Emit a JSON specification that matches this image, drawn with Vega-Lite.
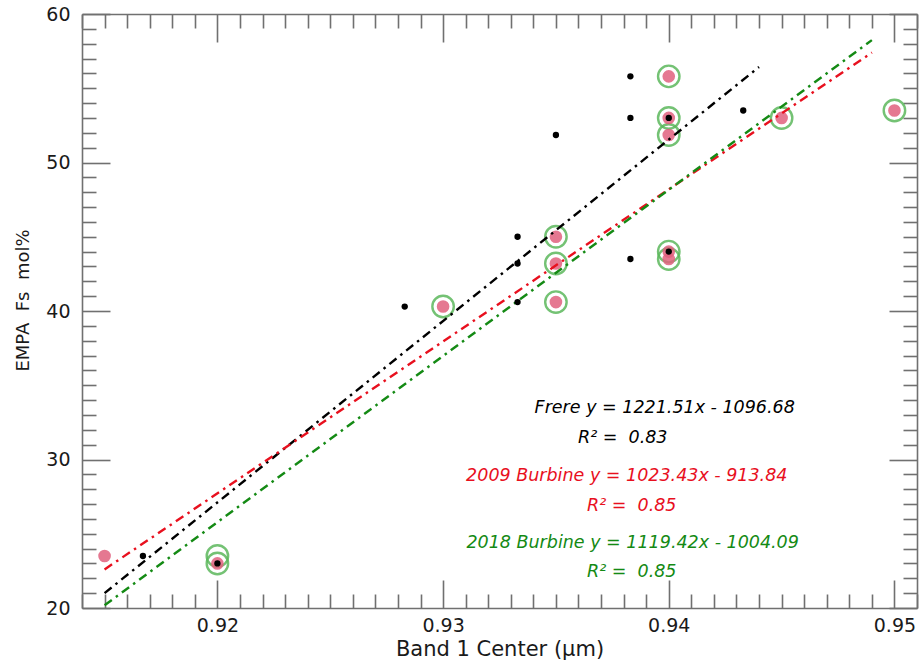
{
  "$schema": "https://vega.github.io/schema/vega-lite/v6.json",
  "width": 835,
  "height": 594,
  "autosize": "none",
  "padding": {"left": 82, "top": 14, "right": 4, "bottom": 55},
  "config": {
    "font": "DejaVu Sans",
    "view": {"stroke": null},
    "axis": {
      "grid": false,
      "domainColor": "#707070",
      "domainWidth": 1.6,
      "tickColor": "#707070",
      "tickWidth": 1.6,
      "labelColor": "#1a1a1a",
      "labelFont": "DejaVu Sans",
      "labelFontSize": 19,
      "titleFont": "DejaVu Sans",
      "titleFontSize": 21,
      "titleFontWeight": "normal",
      "titleColor": "#1a1a1a"
    }
  },
  "datasets": {
    "frere": [
      {"center": 0.9167, "fs": 23.5},
      {"center": 0.92, "fs": 23.0},
      {"center": 0.9283, "fs": 40.3},
      {"center": 0.9333, "fs": 45.0},
      {"center": 0.9333, "fs": 43.2},
      {"center": 0.9333, "fs": 40.6},
      {"center": 0.935, "fs": 51.85},
      {"center": 0.9383, "fs": 55.8},
      {"center": 0.9383, "fs": 53.0},
      {"center": 0.9383, "fs": 43.5},
      {"center": 0.94, "fs": 53.0},
      {"center": 0.94, "fs": 44.0},
      {"center": 0.9433, "fs": 53.5}
    ],
    "burbine2009": [
      {"center": 0.915, "fs": 23.5},
      {"center": 0.92, "fs": 23.0},
      {"center": 0.93, "fs": 40.3},
      {"center": 0.935, "fs": 45.0},
      {"center": 0.935, "fs": 43.2},
      {"center": 0.935, "fs": 40.6},
      {"center": 0.94, "fs": 55.8},
      {"center": 0.94, "fs": 53.0},
      {"center": 0.94, "fs": 51.85},
      {"center": 0.94, "fs": 44.0},
      {"center": 0.94, "fs": 43.5},
      {"center": 0.945, "fs": 53.0},
      {"center": 0.95, "fs": 53.5}
    ],
    "burbine2018": [
      {"center": 0.92, "fs": 23.5},
      {"center": 0.92, "fs": 23.0},
      {"center": 0.93, "fs": 40.3},
      {"center": 0.935, "fs": 45.0},
      {"center": 0.935, "fs": 43.2},
      {"center": 0.935, "fs": 40.6},
      {"center": 0.94, "fs": 55.8},
      {"center": 0.94, "fs": 53.0},
      {"center": 0.94, "fs": 51.85},
      {"center": 0.94, "fs": 44.0},
      {"center": 0.94, "fs": 43.5},
      {"center": 0.945, "fs": 53.0},
      {"center": 0.95, "fs": 53.5}
    ],
    "fits": [
      {"fit": "Frere", "center": 0.915, "fs": 21.0},
      {"fit": "Frere", "center": 0.944, "fs": 56.43},
      {"fit": "2009 Burbine", "center": 0.915, "fs": 22.6},
      {"fit": "2009 Burbine", "center": 0.949, "fs": 57.4},
      {"fit": "2018 Burbine", "center": 0.915, "fs": 20.18},
      {"fit": "2018 Burbine", "center": 0.949, "fs": 58.24}
    ],
    "notes": [
      {"fit": "Frere", "center": 0.93982, "fs": 33.45, "label": "Frere y = 1221.51x - 1096.68"},
      {"fit": "Frere", "center": 0.93796, "fs": 31.45, "label": "R² =\u00a0 0.83"},
      {"fit": "2009 Burbine", "center": 0.93814, "fs": 28.89, "label": "2009 Burbine y = 1023.43x - 913.84"},
      {"fit": "2009 Burbine", "center": 0.93836, "fs": 26.9, "label": "R² =\u00a0 0.85"},
      {"fit": "2018 Burbine", "center": 0.9384, "fs": 24.4, "label": "2018 Burbine y = 1119.42x - 1004.09"},
      {"fit": "2018 Burbine", "center": 0.93836, "fs": 22.42, "label": "R² =\u00a0 0.85"}
    ]
  },
  "layer": [
    {
      "data": {"name": "burbine2018"},
      "mark": {"type": "point", "shape": "circle", "filled": false, "stroke": "#5cb85c", "strokeWidth": 2.4, "opacity": 0.85, "size": 460},
      "encoding": {
        "x": {"field": "center", "type": "quantitative", "scale": {"domain": [0.914, 0.951], "nice": false, "zero": false},
              "axis": {"orient": "bottom", "title": "Band 1 Center (μm)", "values": [0.92, 0.93, 0.94, 0.95], "format": ".2f", "tickSize": -28, "labelPadding": 36, "titlePadding": 3}},
        "y": {"field": "fs", "type": "quantitative", "scale": {"domain": [20, 60], "nice": false, "zero": false},
              "axis": {"orient": "left", "title": "EMPA\u00a0 Fs\u00a0 mol%", "titleFontSize": 18, "titleY": 286, "values": [20, 30, 40, 50, 60], "tickSize": -28, "labelPadding": 40, "titlePadding": 13}}
      }
    },
    {
      "data": {"name": "burbine2009"},
      "mark": {"type": "circle", "color": "#e0607e", "opacity": 0.85, "size": 160},
      "encoding": {
        "x": {"field": "center", "type": "quantitative",
              "axis": {"orient": "bottom", "title": null, "labels": false, "domain": false, "tickSize": -14,
                       "values": [0.914, 0.915, 0.916, 0.917, 0.918, 0.919, 0.921, 0.922, 0.923, 0.924, 0.925, 0.926, 0.927, 0.928, 0.929, 0.931, 0.932, 0.933, 0.934, 0.935, 0.936, 0.937, 0.938, 0.939, 0.941, 0.942, 0.943, 0.944, 0.945, 0.946, 0.947, 0.948, 0.949, 0.951]}},
        "y": {"field": "fs", "type": "quantitative",
              "axis": {"orient": "left", "title": null, "labels": false, "domain": false, "tickSize": -14,
                       "values": [21, 22, 23, 24, 25, 26, 27, 28, 29, 31, 32, 33, 34, 35, 36, 37, 38, 39, 41, 42, 43, 44, 45, 46, 47, 48, 49, 51, 52, 53, 54, 55, 56, 57, 58, 59]}}
      }
    },
    {
      "data": {"name": "fits"},
      "mark": {"type": "line", "strokeWidth": 2.4, "strokeDash": [9, 5, 2.5, 5]},
      "encoding": {
        "x": {"field": "center", "type": "quantitative",
              "axis": {"orient": "top", "title": null, "labels": false, "values": [0.92, 0.93, 0.94, 0.95], "tickSize": -28}},
        "y": {"field": "fs", "type": "quantitative",
              "axis": {"orient": "right", "title": null, "labels": false, "values": [20, 30, 40, 50, 60], "tickSize": -28}},
        "detail": {"field": "fit"},
        "color": {"field": "fit", "type": "nominal", "legend": null,
                  "scale": {"domain": ["Frere", "2009 Burbine", "2018 Burbine"], "range": ["#000000", "#e8101e", "#148a14"]}}
      }
    },
    {
      "data": {"name": "frere"},
      "mark": {"type": "circle", "color": "#000000", "opacity": 1, "size": 40},
      "encoding": {
        "x": {"field": "center", "type": "quantitative",
              "axis": {"orient": "top", "title": null, "labels": false, "domain": false, "tickSize": -14,
                       "values": [0.914, 0.915, 0.916, 0.917, 0.918, 0.919, 0.921, 0.922, 0.923, 0.924, 0.925, 0.926, 0.927, 0.928, 0.929, 0.931, 0.932, 0.933, 0.934, 0.935, 0.936, 0.937, 0.938, 0.939, 0.941, 0.942, 0.943, 0.944, 0.945, 0.946, 0.947, 0.948, 0.949, 0.951]}},
        "y": {"field": "fs", "type": "quantitative",
              "axis": {"orient": "right", "title": null, "labels": false, "domain": false, "tickSize": -14,
                       "values": [21, 22, 23, 24, 25, 26, 27, 28, 29, 31, 32, 33, 34, 35, 36, 37, 38, 39, 41, 42, 43, 44, 45, 46, 47, 48, 49, 51, 52, 53, 54, 55, 56, 57, 58, 59]}}
      }
    },
    {
      "data": {"name": "notes"},
      "mark": {"type": "text", "fontStyle": "italic", "fontSize": 17.5, "align": "center", "baseline": "middle"},
      "encoding": {
        "x": {"field": "center", "type": "quantitative", "axis": null},
        "y": {"field": "fs", "type": "quantitative", "axis": null},
        "text": {"field": "label"},
        "color": {"field": "fit", "type": "nominal", "legend": null,
                  "scale": {"domain": ["Frere", "2009 Burbine", "2018 Burbine"], "range": ["#222222", "#e8142e", "#1e8c1e"]}}
      }
    }
  ],
  "resolve": {"axis": {"x": "independent", "y": "independent"}}
}
